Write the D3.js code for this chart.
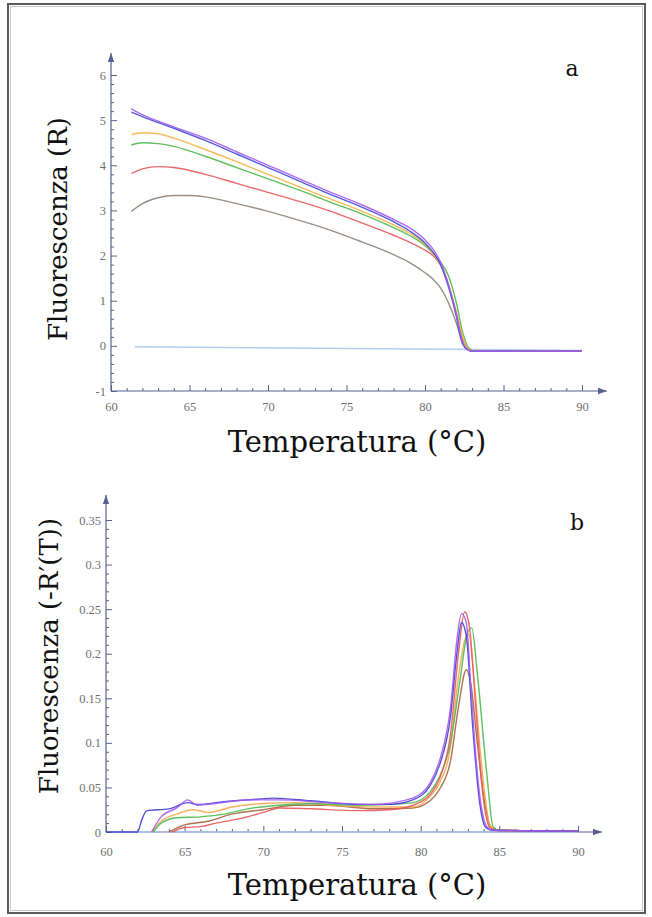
<!DOCTYPE html>
<html><head><meta charset="utf-8">
<script src="https://cdn.jsdelivr.net/npm/d3@7"></script>
<style>html,body{margin:0;padding:0;background:#fff;}svg{display:block;}</style>
</head><body>
<svg id="c" width="652" height="917"></svg>
<script>
// ---------- DATA: panel a (Fluorescenza R vs Temperatura) ----------
const topXTicks = [60, 65, 70, 75, 80, 85, 90];
const topYTicks = [-1, 0, 1, 2, 3, 4, 5, 6];
const aViolet = [[61.3,5.25],[62,5.12],[64,4.85],[66,4.6],[68,4.3],[70,4.0],[72,3.7],[74,3.4],[76,3.12],[78,2.8],[79,2.62],[80,2.35],[80.5,2.15],[81,1.85],[81.5,1.35],[82,0.7],[82.3,0.2],[82.6,-0.05],[83,-0.12],[90,-0.12]];
const aBlue   = [[61.3,5.18],[62,5.08],[64,4.82],[66,4.55],[68,4.25],[70,3.95],[72,3.65],[74,3.35],[76,3.07],[78,2.75],[79,2.55],[80,2.28],[80.5,2.08],[81,1.8],[81.5,1.3],[82,0.65],[82.3,0.15],[82.6,-0.06],[83,-0.12],[90,-0.12]];
const aOrange = [[61.3,4.68],[62,4.72],[63,4.7],[64,4.6],[66,4.35],[68,4.08],[70,3.8],[72,3.52],[74,3.25],[76,2.98],[78,2.68],[79,2.5],[80,2.25],[80.5,2.05],[81,1.78],[81.5,1.35],[82,0.75],[82.4,0.2],[82.7,-0.05],[83.1,-0.12],[90,-0.12]];
const aGreen  = [[61.3,4.45],[62,4.5],[63,4.48],[64,4.42],[66,4.2],[68,3.95],[70,3.7],[72,3.45],[74,3.18],[76,2.92],[78,2.62],[79,2.45],[80,2.22],[80.5,2.05],[81,1.85],[81.5,1.55],[82,0.95],[82.4,0.3],[82.8,-0.05],[83.2,-0.12],[90,-0.12]];
const aRed    = [[61.3,3.82],[62,3.92],[63,3.97],[64,3.95],[66,3.8],[68,3.6],[70,3.4],[72,3.2],[74,2.98],[76,2.72],[78,2.45],[79,2.3],[80,2.12],[80.5,2.0],[81,1.78],[81.5,1.35],[82,0.7],[82.4,0.15],[82.7,-0.06],[83.1,-0.12],[90,-0.12]];
const aGray   = [[61.3,2.98],[62,3.15],[63,3.28],[64,3.33],[65,3.33],[66,3.3],[68,3.15],[70,2.98],[72,2.78],[74,2.56],[76,2.3],[78,2.02],[79,1.85],[80,1.62],[80.5,1.48],[81,1.28],[81.5,0.95],[82,0.5],[82.4,0.05],[82.7,-0.08],[83,-0.12],[90,-0.12]];
const aBase   = [[61.5,-0.02],[90,-0.1]];

// ---------- DATA: panel b (Fluorescenza -R'(T) vs Temperatura) ----------
const botXTicks = [60, 65, 70, 75, 80, 85, 90];
const botYTicks = [0, 0.05, 0.1, 0.15, 0.2, 0.25, 0.3, 0.35];
const bBlue   = [[60,0],[62,0],[62.3,0.015],[62.6,0.024],[64,0.026],[65.2,0.033],[65.8,0.031],[67.5,0.034],[69.8,0.037],[70.6,0.038],[73,0.035],[76,0.031],[78,0.031],[79.5,0.036],[80.6,0.052],[81.2,0.075],[81.9,0.13],[82.3,0.2],[82.6,0.235],[82.9,0.22],[83.3,0.12],[83.7,0.04],[84.1,0.006],[84.5,0.002],[90,0.001]];
const bViolet = [[62.9,0],[63.5,0.017],[64.5,0.027],[65.2,0.036],[65.8,0.03],[67,0.032],[69,0.036],[71,0.036],[74,0.033],[77,0.031],[79.5,0.038],[80.6,0.055],[81.2,0.08],[81.9,0.14],[82.3,0.215],[82.6,0.245],[82.9,0.235],[83.2,0.16],[83.6,0.066],[84.2,0.006],[84.6,0.002],[90,0.001]];
const bRed    = [[64.2,0],[65,0.005],[66,0.006],[67,0.01],[68.5,0.015],[70,0.022],[71,0.027],[73,0.026],[76,0.024],[78,0.025],[79.5,0.03],[80.6,0.042],[81.2,0.06],[81.9,0.11],[82.4,0.2],[82.8,0.247],[83.1,0.23],[83.5,0.14],[83.9,0.05],[84.4,0.005],[84.8,0.002],[90,0.001]];
const bGreen  = [[63,0],[63.5,0.01],[64.5,0.016],[66,0.017],[67.5,0.02],[69,0.026],[71,0.03],[73,0.032],[76,0.03],[78,0.031],[79.5,0.033],[80.6,0.045],[81.2,0.062],[81.9,0.1],[82.5,0.17],[83.0,0.225],[83.25,0.229],[83.6,0.178],[84.2,0.066],[84.6,0.006],[85,0.002],[90,0.001]];
const bOrange = [[62.9,0],[63.5,0.012],[64.5,0.02],[65.5,0.025],[66.5,0.022],[68,0.028],[70,0.032],[72,0.033],[75,0.029],[78,0.028],[79.5,0.028],[80.6,0.04],[81.2,0.055],[81.9,0.096],[82.3,0.16],[82.8,0.215],[83.05,0.222],[83.4,0.17],[83.9,0.07],[84.4,0.008],[84.8,0.002],[90,0.001]];
const bBrown  = [[64,0],[65,0.008],[66.5,0.012],[68,0.02],[70,0.025],[72,0.03],[74,0.03],[77,0.026],[79.5,0.027],[80.6,0.035],[81.2,0.048],[81.9,0.08],[82.4,0.14],[82.9,0.182],[83.2,0.165],[83.6,0.1],[84.1,0.03],[84.5,0.004],[85,0.002],[90,0.001]];
const bBase   = [[60.3,0.0],[90,0.0]];

const svg = d3.select("#c");
const AX = "#55618e";
const TICKFONT = "'Liberation Serif','Times New Roman',serif";
const TITLEFONT = "'DejaVu Serif',serif";

// frame
svg.append("rect").attr("x",8).attr("y",4).attr("width",637).attr("height",909)
  .attr("fill","#fff").attr("stroke","#5a5a5a").attr("stroke-width",2);
svg.append("rect").attr("x",10.5).attr("y",6.5).attr("width",632).attr("height",904)
  .attr("fill","none").attr("stroke","#c8c8c8").attr("stroke-width",1);

const defs = svg.append("defs");
defs.append("marker").attr("id","arr").attr("viewBox","0 0 10 10").attr("refX",10).attr("refY",5)
  .attr("markerWidth",9).attr("markerHeight",9).attr("markerUnits","userSpaceOnUse").attr("orient","auto")
  .append("path").attr("d","M0,1.5 L10,5 L0,8.5 Z").attr("fill",AX);

function panel(cfg){
  const g = svg.append("g");
  const x = d3.scaleLinear().domain(cfg.xd).range(cfg.xr);
  const y = d3.scaleLinear().domain(cfg.yd).range(cfg.yr);
  const x0 = cfg.xr[0], y0 = cfg.yr[0];
  g.append("line").attr("x1",x0).attr("x2",cfg.xEnd).attr("y1",y0).attr("y2",y0)
    .attr("stroke",AX).attr("stroke-width",1.2).attr("marker-end","url(#arr)");
  g.append("line").attr("x1",x0).attr("x2",x0).attr("y1",y0).attr("y2",cfg.yEnd)
    .attr("stroke",AX).attr("stroke-width",1.2).attr("marker-end","url(#arr)");
  const xa = d3.axisBottom(x).tickValues(d3.range(cfg.xd[0]+1, cfg.xd[1]+0.001, 1).filter(v=>v%5!==0))
    .tickSize(-3).tickFormat("");
  g.append("g").attr("transform",`translate(0,${y0})`).call(xa).call(s=>s.select(".domain").remove())
    .selectAll("line").attr("stroke",AX);
  const ya = d3.axisLeft(y).tickValues(cfg.yMinor).tickSize(-3).tickFormat("");
  g.append("g").attr("transform",`translate(${x0},0)`).call(ya).call(s=>s.select(".domain").remove())
    .selectAll("line").attr("stroke",AX);
  const xM = d3.axisBottom(x).tickValues(cfg.xTicks).tickSize(-6).tickPadding(cfg.xPad);
  const gx = g.append("g").attr("transform",`translate(0,${y0})`).call(xM);
  gx.select(".domain").remove();
  gx.selectAll("line").attr("stroke",AX);
  gx.selectAll("text").attr("fill","#707070").style("font-family",TICKFONT).style("font-size","12.5px");
  const yM = d3.axisLeft(y).tickValues(cfg.yTicks).tickSize(-6).tickPadding(5).tickFormat(cfg.yFmt);
  const gy = g.append("g").attr("transform",`translate(${x0},0)`).call(yM);
  gy.select(".domain").remove();
  gy.selectAll("line").attr("stroke",AX);
  gy.selectAll("text").attr("fill","#707070").style("font-family",TICKFONT).style("font-size","12.5px");
  const line = d3.line().x(d=>x(d[0])).y(d=>y(d[1])).curve(d3.curveMonotoneX);
  cfg.series.forEach(s=>{
    g.append("path").datum(s.data).attr("d",line).attr("fill","none")
      .attr("stroke",s.color).attr("stroke-width",s.w||1.4).attr("stroke-opacity",0.9);
  });
  g.append("text").attr("x",cfg.xtPos[0]).attr("y",cfg.xtPos[1]).attr("text-anchor","middle")
    .style("font-family",TITLEFONT).style("font-size","29px").attr("fill","#111").text("Temperatura (°C)");
  g.append("text").attr("transform",`translate(${cfg.ytPos[0]},${cfg.ytPos[1]}) rotate(-90)`).attr("text-anchor","middle")
    .style("font-family",TITLEFONT).style("font-size","26px").attr("fill","#111").text(cfg.yTitle);
  g.append("text").attr("x",cfg.letter[0]).attr("y",cfg.letter[1]).attr("text-anchor","middle")
    .style("font-family",TITLEFONT).style("font-size","22px").attr("fill","#111").text(cfg.letter[2]);
}

panel({
  xd:[60,90], xr:[111,582], yd:[-1,6], yr:[391,75], xEnd:607, yEnd:53,
  xTicks: topXTicks, yTicks: topYTicks, xPad:11,
  yMinor: d3.range(-1,6.001,0.2).filter(v=>Math.abs(v-Math.round(v))>0.01),
  yFmt: d=>String(d),
  series:[
    {data:aBase,color:"#a9c6ee"},
    {data:aGray,color:"#8d8273"},
    {data:aRed,color:"#e8585a"},
    {data:aGreen,color:"#4cb94c"},
    {data:aOrange,color:"#f3b446"},
    {data:aBlue,color:"#3f4bd6"},
    {data:aViolet,color:"#a45af0"}
  ],
  xtPos:[357,452], ytPos:[67,229], yTitle:"Fluorescenza (R)", letter:[572,76,"a"]
});

panel({
  xd:[60,90], xr:[106,578], yd:[0,0.35], yr:[832,520], xEnd:602, yEnd:495,
  xTicks: botXTicks, yTicks: botYTicks, xPad:15,
  yMinor: d3.range(0,0.3501,0.01).filter(v=>Math.abs(v*20-Math.round(v*20))>0.01),
  yFmt: d=>String(+d.toFixed(2)),
  series:[
    {data:bBase,color:"#a9c6ee"},
    {data:bBrown,color:"#a4643f"},
    {data:bOrange,color:"#f3a64a"},
    {data:bGreen,color:"#4cb94c"},
    {data:bRed,color:"#e8585a"},
    {data:bBlue,color:"#3f3fd0"},
    {data:bViolet,color:"#a45af0"}
  ],
  xtPos:[357,895], ytPos:[58,656], yTitle:"Fluorescenza (-R\u2032(T))", letter:[577,530,"b"]
});
</script>
</body></html>
